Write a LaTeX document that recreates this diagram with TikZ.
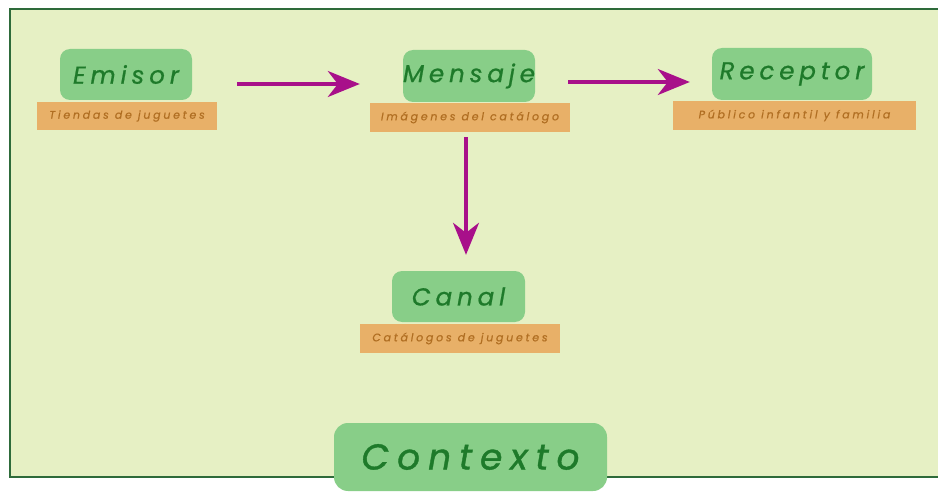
\documentclass[tikz,border=0pt]{standalone}
\usepackage{fontspec}
\setmainfont{Poppins}
\usetikzlibrary{arrows.meta}
\definecolor{bgfill}{HTML}{E6F0C4}
\definecolor{framec}{HTML}{2E6B3A}
\definecolor{boxg}{HTML}{88CE88}
\definecolor{txtg}{HTML}{1E7A2A}
\definecolor{boxo}{HTML}{E8B068}
\definecolor{txto}{HTML}{B06E22}
\definecolor{arrc}{HTML}{A8108A}
\tikzset{
  x=1pt, y=-1pt,
  mainbox/.style={fill=boxg, rounded corners=10pt, text=txtg, inner sep=0pt,
    font=\fontsize{24.5}{30}\selectfont\itshape\addfontfeatures{LetterSpace=20,FakeBold=0.8}},
  sublabel/.style={fill=boxo, text=txto, inner sep=0pt, minimum height=28pt,
    font=\fontsize{11}{12}\selectfont\itshape\addfontfeatures{LetterSpace=25,FakeBold=0.6}},
  conn/.style={draw=arrc, line width=3.5pt, -{Stealth[length=32pt,width=26pt,inset=10pt]}}
}
\begin{document}
\begin{tikzpicture}
\useasboundingbox (0,0) rectangle (938,492);
\fill[white] (0,0) rectangle (938,492);
\draw[fill=bgfill, draw=framec, line width=2.5pt] (10,9) rectangle (948,477);

\node[mainbox, minimum width=132pt, minimum height=51pt] (emisor) at (126,74.5) {Emisor};
\node[sublabel, minimum width=180pt] (emisorlab) at (127,116) {Tiendas de juguetes};

\node[mainbox, minimum width=132pt, minimum height=52pt] (mensaje) at (469,76) {Mensaje};
\node[sublabel, minimum width=200pt, minimum height=29pt] (mensajelab) at (470,117.5) {Imágenes del catálogo};

\node[mainbox, minimum width=160pt, minimum height=52pt] (receptor) at (792,74) {Receptor};
\node[sublabel, minimum width=243pt, minimum height=29pt] (receptorlab) at (794.5,115.5) {Público infantil y familia};

\node[mainbox, minimum width=133pt, minimum height=51pt] (canal) at (458.5,296.5) {Canal};
\node[sublabel, minimum width=200pt, minimum height=29pt] (canallab) at (460,338.5) {Catálogos de juguetes};

\node[mainbox, minimum width=273pt, minimum height=68pt, rounded corners=14pt,
  font=\fontsize{36}{44}\selectfont\itshape\addfontfeatures{LetterSpace=22,FakeBold=1}] (contexto) at (470.5,457) {Contexto};

\draw[conn] ([xshift=45pt,yshift=-9.5pt]emisor.east) -- ([xshift=-43pt,yshift=-8pt]mensaje.west);
\draw[conn] ([xshift=33pt,yshift=-6pt]mensaje.east) -- ([xshift=-22pt,yshift=-8pt]receptor.west);
\draw[conn] ([xshift=-4pt,yshift=-5pt]mensajelab.south) -- ([xshift=7.5pt,yshift=16pt]canal.north);
\end{tikzpicture}
\end{document}
